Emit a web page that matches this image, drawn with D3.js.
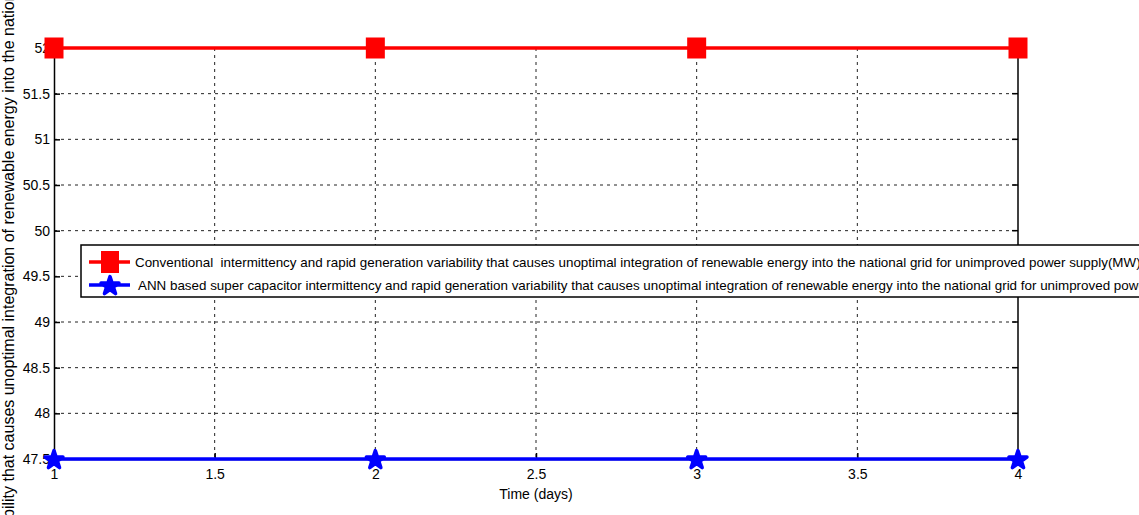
<!DOCTYPE html>
<html>
<head>
<meta charset="utf-8">
<script src="https://d3js.org/d3.v7.min.js"></script>
<style>
  body { margin: 0; background: #fff; }
  text { font-family: "Liberation Sans", Arial, sans-serif; fill: #000; }
</style>
</head>
<body>
<script>
// data
const days = [1, 2, 3, 4];
const conventional = [52, 52, 52, 52];
const annSupercap = [47.5, 47.5, 47.5, 47.5];
const xTicks = [1, 1.5, 2, 2.5, 3, 3.5, 4];
const yTicks = [47.5, 48, 48.5, 49, 49.5, 50, 50.5, 51, 51.5, 52];
const legendLabels = [
  "Conventional  intermittency and rapid generation variability that causes unoptimal integration of renewable energy into the national grid for unimproved power supply(MW)",
  " ANN based super capacitor intermittency and rapid generation variability that causes unoptimal integration of renewable energy into the national grid for unimproved power supply(MW)"
];
const yLabel = "Intermittency and rapid generation variability that causes unoptimal integration of renewable energy into the national grid (MW)";
const xLabel = "Time (days)";

const w = 1139, h = 515;
const pLeft = 54, pRight = 1018, pTop = 48, pBottom = 459;

const x = d3.scaleLinear().domain([1, 4]).range([pLeft, pRight]);
const y = d3.scaleLinear().domain([47.5, 52]).range([pBottom, pTop]);

const svg = d3.select("body").append("svg")
  .attr("width", w).attr("height", h);

// dashed grid
svg.append("g").selectAll("line")
  .data(xTicks.slice(1, -1)).join("line")
  .attr("x1", d => x(d)).attr("x2", d => x(d))
  .attr("y1", pTop).attr("y2", pBottom)
  .attr("stroke", "#222").attr("stroke-width", 1)
  .attr("stroke-dasharray", "3,4");
svg.append("g").selectAll("line")
  .data(yTicks.slice(1, -1)).join("line")
  .attr("x1", pLeft).attr("x2", pRight)
  .attr("y1", d => y(d)).attr("y2", d => y(d))
  .attr("stroke", "#222").attr("stroke-width", 1)
  .attr("stroke-dasharray", "3,4");

// axes, ticks pointing inward
const xAxis = svg.append("g")
  .attr("transform", "translate(0," + pBottom + ")")
  .call(d3.axisBottom(x).tickValues(xTicks).tickSizeInner(-6).tickSizeOuter(0).tickPadding(10)
    .tickFormat(d3.format("")));
const yAxis = svg.append("g")
  .attr("transform", "translate(" + pLeft + ",0)")
  .call(d3.axisLeft(y).tickValues(yTicks).tickSizeInner(-6).tickSizeOuter(0).tickPadding(4)
    .tickFormat(d3.format("")));
[xAxis, yAxis].forEach(a => {
  a.select(".domain").attr("stroke", "#000").attr("stroke-width", 1.5);
  a.selectAll(".tick line").attr("stroke", "#000").attr("stroke-width", 1.5);
  a.selectAll(".tick text").style("font-size", "14px")
    .style("font-family", "'Liberation Sans', Arial, sans-serif");
});

// top and right box lines
svg.append("line").attr("x1", pLeft).attr("x2", pRight).attr("y1", pTop).attr("y2", pTop)
  .attr("stroke", "#000").attr("stroke-width", 1.5);
svg.append("line").attr("x1", pRight).attr("x2", pRight).attr("y1", pTop).attr("y2", pBottom)
  .attr("stroke", "#000").attr("stroke-width", 1.5);
svg.append("g").selectAll("line").data(yTicks).join("line")
  .attr("x1", pRight - 6).attr("x2", pRight)
  .attr("y1", d => y(d)).attr("y2", d => y(d))
  .attr("stroke", "#000").attr("stroke-width", 1.5);

// axis labels
svg.append("text").attr("x", x(2.5)).attr("y", 499)
  .attr("text-anchor", "middle").style("font-size", "14px").text(xLabel);

const yl = svg.append("text")
  .attr("transform", "rotate(-90)")
  .attr("y", 14)
  .style("font-size", "16px")
  .text(yLabel);
// line up the visible part "bility ..." with the bottom edge as in the picture
const pre = yLabel.indexOf("bility");
const preLen = yl.node().getSubStringLength(0, pre);
yl.attr("x", -(h + 3) - preLen);

// series
const line = d3.line().x((d, i) => x(days[i])).y(d => y(d));
svg.append("path").datum(conventional)
  .attr("d", line).attr("fill", "none")
  .attr("stroke", "#ff0000").attr("stroke-width", 3.5);
svg.append("path").datum(annSupercap)
  .attr("d", line).attr("fill", "none")
  .attr("stroke", "#0000ff").attr("stroke-width", 3.5);

svg.append("g").selectAll("rect").data(conventional).join("rect")
  .attr("x", (d, i) => x(days[i]) - 9.5).attr("y", d => y(d) - 10.5)
  .attr("width", 19).attr("height", 21).attr("fill", "#ff0000");

const star = d3.symbol().type(d3.symbolStar).size(100);
svg.append("g").selectAll("path").data(annSupercap).join("path")
  .attr("transform", (d, i) => "translate(" + x(days[i]) + "," + (y(d) + 1) + ")")
  .attr("d", star).attr("fill", "#0000ff")
  .attr("stroke", "#0000ff").attr("stroke-width", 3.5).attr("stroke-linejoin", "round");

// legend
const lg = svg.append("g");
lg.append("rect").attr("x", 81).attr("y", 245).attr("width", 1100).attr("height", 52)
  .attr("fill", "#fff").attr("stroke", "#000").attr("stroke-width", 1.5);

const rows = [262, 285];
lg.append("line").attr("x1", 89).attr("x2", 130).attr("y1", rows[0]).attr("y2", rows[0])
  .attr("stroke", "#ff0000").attr("stroke-width", 3.5);
lg.append("rect").attr("x", 101).attr("y", rows[0] - 11).attr("width", 18).attr("height", 22)
  .attr("fill", "#ff0000");
lg.append("line").attr("x1", 89).attr("x2", 130).attr("y1", rows[1]).attr("y2", rows[1])
  .attr("stroke", "#0000ff").attr("stroke-width", 3.5);
lg.append("path").attr("transform", "translate(110," + (rows[1] + 1) + ")")
  .attr("d", star).attr("fill", "#0000ff")
  .attr("stroke", "#0000ff").attr("stroke-width", 3.5).attr("stroke-linejoin", "round");

lg.selectAll("text.lbl").data(legendLabels).join("text")
  .attr("class", "lbl")
  .attr("x", 135).attr("y", (d, i) => rows[i] + 5)
  .attr("xml:space", "preserve")
  .style("white-space", "pre")
  .style("font-size", "13.4px")
  .text(d => d);
</script>
</body>
</html>
